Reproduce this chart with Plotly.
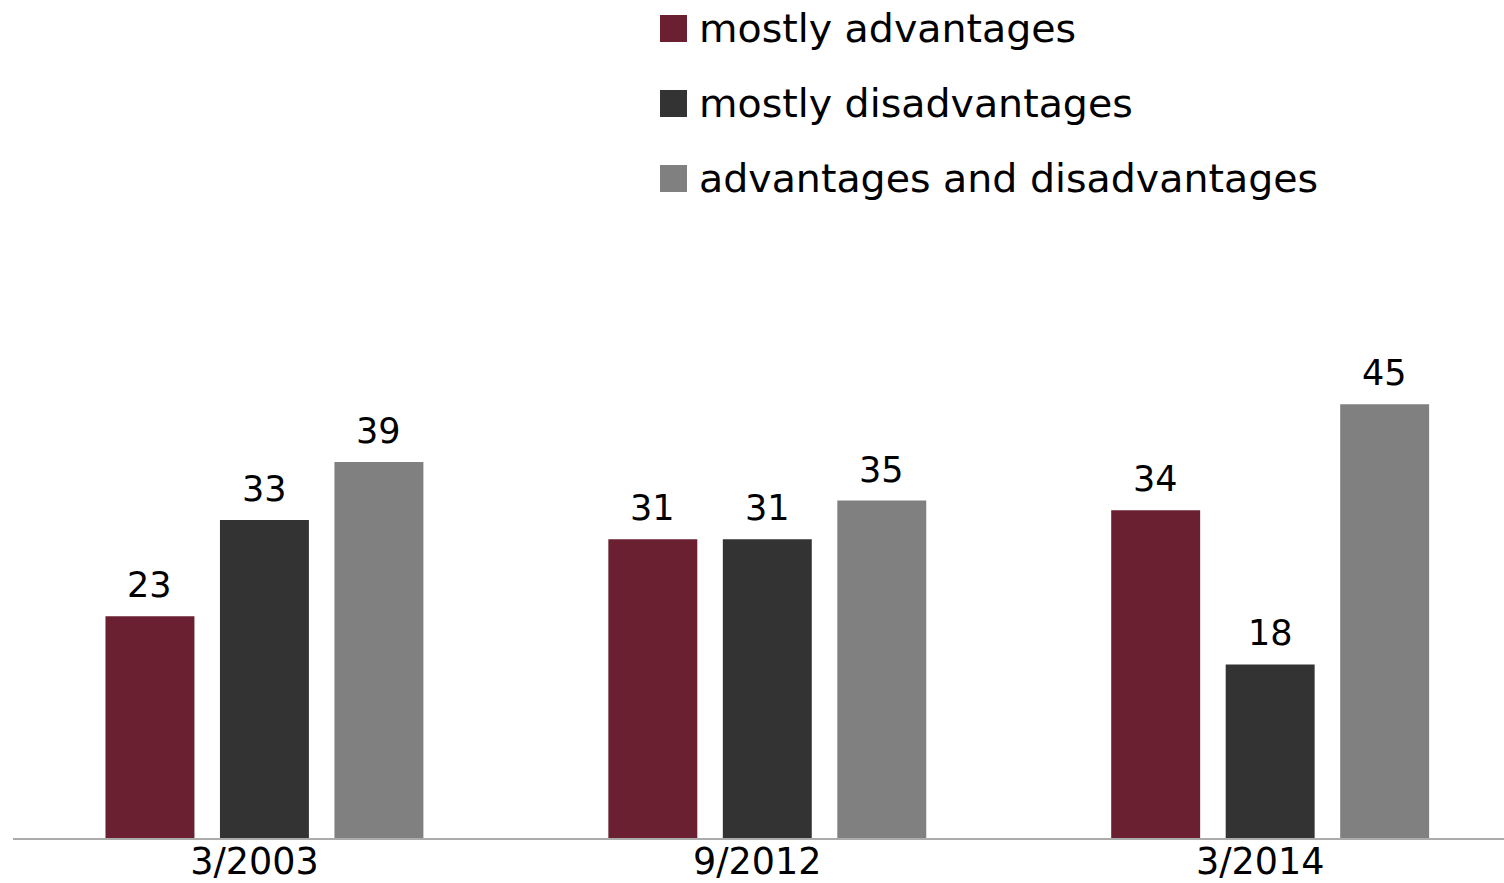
import plotly.graph_objects as go

categories = ["3/2003", "9/2012", "3/2014"]
series_names = ["mostly advantages", "mostly disadvantages", "advantages and disadvantages"]
mostly_adv = [23, 31, 34]
mostly_dis = [33, 31, 18]
both = [39, 35, 45]
colors = ["#6a2031", "#333333", "#808080"]

series_values = [mostly_adv, mostly_dis, both]

BARGAP = 0.317
BARGROUPGAP = 0.223
n = len(series_values)
slot = (1 - BARGAP) / n

xs = list(range(len(categories)))

fig = go.Figure()
for j, (name, vals, col) in enumerate(zip(series_names, series_values, colors)):
    fig.add_trace(go.Bar(x=xs, y=vals, name=name, marker=dict(color=col, line=dict(width=0)),
                         showlegend=False))

FONT = "DejaVu Sans"
annotations = []
for j, vals in enumerate(series_values):
    off = (j - (n - 1) / 2) * slot
    for i, v in enumerate(vals):
        annotations.append(dict(x=xs[i] + off, y=v, xref="x", yref="y", text=str(v),
                                showarrow=False, yanchor="bottom", xanchor="center",
                                yshift=9, font=dict(family=FONT, size=35, color="#000000")))

# manual legend
legend_y = [1.6795, 1.5239, 1.3683]
shapes = []
for name, col, ly in zip(series_names, colors, legend_y):
    shapes.append(dict(type="rect", xref="paper", yref="paper",
                       x0=(660 - 13) / 1491, x1=(687 - 13) / 1491,
                       y0=ly - 13.5 / 482, y1=ly + 13.5 / 482,
                       fillcolor=col, line=dict(width=0)))
    annotations.append(dict(x=(697 - 13) / 1491, y=ly, xref="paper", yref="paper", text=name,
                            showarrow=False, xanchor="left", yanchor="middle",
                            font=dict(family=FONT, size=39.5, color="#000000")))

fig.update_layout(
    width=1504, height=883,
    margin=dict(l=13, r=0, t=356, b=45, autoexpand=False),
    barmode="group", bargap=BARGAP, bargroupgap=BARGROUPGAP,
    plot_bgcolor="white", paper_bgcolor="white",
    showlegend=False,
    annotations=annotations, shapes=shapes,
    xaxis=dict(range=[-0.5, 2.465], tickmode="array", tickvals=xs, ticktext=categories,
               showgrid=False, zeroline=False, showline=True, linecolor="#ababab", linewidth=2,
               ticks="", ticklabelshift=-10, ticklabelstandoff=-10, automargin=False,
               tickfont=dict(family=FONT, size=36.5, color="#000000")),
    yaxis=dict(range=[0, 50], visible=False, showgrid=False, zeroline=False, automargin=False),
)

fig.write_html("out.html")
